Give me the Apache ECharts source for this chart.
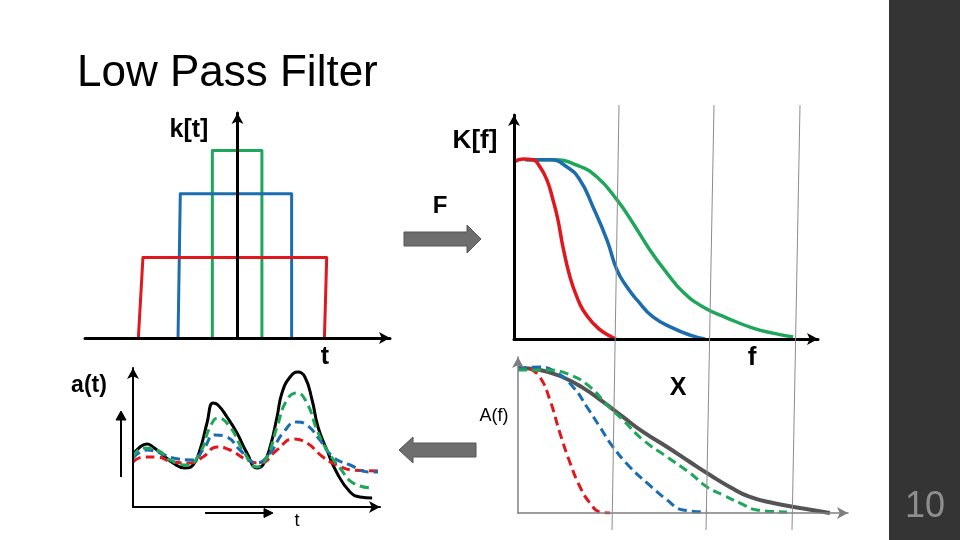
<!DOCTYPE html>
<html>
<head>
<meta charset="utf-8">
<script src="https://cdn.jsdelivr.net/npm/echarts@6/dist/echarts.min.js"></script>
<style>html,body{margin:0;padding:0;background:#fff}#c{width:960px;height:540px}</style>
</head>
<body>
<div id="c"></div>
<script>
// ---- Panel 1: k[t] rectangular kernels (t, height) ----
var kGreen = [[-1.65,0],[-1.65,1.0],[1.6,1.0],[1.6,0]];
var kBlue  = [[-3.9,0],[-3.75,0.77],[3.55,0.77],[3.55,0]];
var kRed   = [[-6.5,0],[-6.2,0.43],[5.85,0.43],[5.7,0]];

// ---- Panel 2: K[f] spectra (f, value) ----
var KfRed = [[0,0.988],[2.96,1.004],[6.25,1.0],[8.55,0.96],[10.86,0.887],[12.83,0.776],[14.47,0.664],[16.12,0.513],[18.42,0.346],[20.72,0.234],[22.7,0.162],[25.99,0.089],[29.28,0.039],[33.55,0]];
var KfBlue = [[3.6,1.0],[11.84,1.0],[17.43,0.96],[21.7,0.887],[25.99,0.737],[30.59,0.552],[33.88,0.385],[37.17,0.29],[40.46,0.218],[45.72,0.123],[52.3,0.061],[57.9,0.022],[62.8,0]];
var KfGreen = [[4.3,1.0],[12.83,1.0],[20.7,0.97],[27.3,0.904],[33.9,0.776],[39.1,0.647],[44.7,0.497],[50.3,0.368],[55.6,0.262],[62.2,0.179],[70.1,0.117],[78.6,0.061],[85.2,0.033],[91.8,0.011]];

// ---- Panel 3: a(t) signal and filtered versions (t, value) ----
var aBlack = [[0,0.52],[2.83,0.60],[5.67,0.63],[8.1,0.60],[12.15,0.52],[16.2,0.44],[21.05,0.39],[24.3,0.42],[27.1,0.57],[29.96,0.84],[32.4,1.04],[34.4,1.02],[38.06,0.90],[42.1,0.74],[46.15,0.54],[50.2,0.39],[52.6,0.42],[55.5,0.60],[58.3,0.90],[60.3,1.14],[63.6,1.30],[66.8,1.35],[69.6,1.30],[72.5,1.07],[74.9,0.80],[78.5,0.57],[82.6,0.34],[87.9,0.15],[91.9,0.10],[96.8,0.09]];
var aGreen = [[0,0.50],[4.05,0.59],[9.7,0.57],[15,0.47],[21.9,0.42],[27.1,0.54],[31.2,0.80],[34.4,0.89],[39.3,0.80],[44.5,0.57],[50.2,0.40],[54.3,0.50],[58.3,0.80],[62.3,1.07],[66.4,1.14],[70.4,1.04],[74.5,0.77],[78.5,0.57],[83.8,0.39],[89.1,0.24],[96.8,0.19]];
var aBlue = [[0,0.49],[5.67,0.57],[10.9,0.54],[16.2,0.49],[24.3,0.47],[28.3,0.57],[33.2,0.72],[38.06,0.70],[43.3,0.57],[50.2,0.44],[55.5,0.54],[60.7,0.74],[66.4,0.85],[70.4,0.82],[75.7,0.67],[81,0.50],[87.9,0.42],[95.9,0.35],[99.2,0.35]];
var aRed = [[0,0.45],[4.05,0.50],[9.7,0.50],[16.2,0.45],[23.1,0.44],[28.3,0.50],[34,0.60],[39.3,0.57],[46.2,0.47],[51.4,0.44],[58.3,0.57],[64.8,0.68],[70.4,0.64],[76.9,0.50],[82.6,0.42],[89.1,0.37],[99.2,0.36]];

// ---- Panel 4: A(f) signal spectrum and products (f, value) ----
var AfGray = [[0,1.004],[6.67,0.99],[13.6,0.94],[19.7,0.866],[25.8,0.769],[31.8,0.665],[37.9,0.561],[45.2,0.457],[52.1,0.353],[58.2,0.263],[64.2,0.18],[70.3,0.111],[77.3,0.069],[85.5,0.035],[94.5,0]];
var AfGreen = [[0,0.99],[8.8,0.99],[15.8,0.956],[21.8,0.873],[27,0.748],[31.8,0.644],[37.9,0.506],[45.2,0.388],[52.1,0.277],[57.3,0.18],[62.1,0.125],[67.3,0.069],[72.4,0.021],[81.5,0.007]];
var AfBlue = [[0,1.0],[6.67,1.01],[11.8,0.97],[16.7,0.873],[20.9,0.734],[24.8,0.596],[28.8,0.457],[33.9,0.319],[39.1,0.208],[45.2,0.09],[50,0.021],[57.3,0.007]];
var AfRed = [[3.6,1.0],[6.67,0.94],[9.7,0.78],[12.7,0.554],[15.8,0.346],[18.8,0.18],[21.8,0.069],[24.8,0.007],[27.9,0]];

var RED = '#e0181e', BLUE = '#1b6db0', GREEN = '#1ea65a';

function axis(idx, min, max, color, width) {
  return {
    type: 'value', gridIndex: idx, min: min, max: max, z: 5,
    axisLine: { show: true, onZero: true, symbol: ['none', 'arrow'], symbolSize: [9, 11],
      lineStyle: { color: color, width: width } },
    axisTick: { show: false }, axisLabel: { show: false }, splitLine: { show: false }
  };
}
function line(data, xi, color, width, dashed) {
  return {
    type: 'line', xAxisIndex: xi, yAxisIndex: xi, data: data, showSymbol: false,
    smooth: dashed === 'rect' ? false : 0.5, animation: false,
    lineStyle: { color: color, width: width, type: (dashed === true) ? [9, 5] : 'solid', cap: 'butt', join: 'round' }
  };
}
function txt(text, x, y, size, weight, color, align) {
  return { type: 'text', z: 20, style: { text: text, x: x, y: y, fontSize: size, fontWeight: weight,
    fontFamily: 'Liberation Sans, Arial, sans-serif', fill: color,
    align: align || 'center', textAlign: align || 'center', verticalAlign: 'middle', textVerticalAlign: 'middle' } };
}
function poly(points, fill, stroke) {
  return { type: 'polygon', z: 20, shape: { points: points }, style: { fill: fill, stroke: stroke, lineWidth: 1 } };
}
function seg(x1, y1, x2, y2, color, w) {
  return { type: 'line', z: 20, shape: { x1: x1, y1: y1, x2: x2, y2: y2 }, style: { stroke: color, lineWidth: w } };
}

var chart = echarts.init(document.getElementById('c'), null, { renderer: 'canvas' });
chart.setOption({
  animation: false,
  backgroundColor: '#ffffff',
  grid: [
    { left: 85, top: 113, width: 305, height: 225 },
    { left: 514, top: 115, width: 304, height: 224 },
    { left: 133, top: 368, width: 247, height: 139 },
    { left: 518, top: 357, width: 330, height: 156 }
  ],
  xAxis: [
    axis(0, -10, 10, '#000', 3),
    axis(1, 0, 100, '#000', 3),
    axis(2, 0, 100, '#000', 2),
    axis(3, 0, 100, '#7f7f7f', 1.5)
  ],
  yAxis: [
    axis(0, 0, 1.2, '#000', 3),
    axis(1, 0, 1.25, '#000', 3),
    axis(2, 0, 1.39, '#000', 2),
    axis(3, 0, 1.08, '#7f7f7f', 1.5)
  ],
  series: [
    line(kGreen, 0, GREEN, 3, 'rect'),
    line(kBlue, 0, BLUE, 3, 'rect'),
    line(kRed, 0, RED, 3, 'rect'),
    line(KfGreen, 1, GREEN, 3.5, false),
    line(KfBlue, 1, BLUE, 3.5, false),
    line(KfRed, 1, RED, 3.5, false),
    line(aBlack, 2, '#000', 3, false),
    line(aRed, 2, RED, 3, true),
    line(aBlue, 2, BLUE, 3, true),
    line(aGreen, 2, GREEN, 3, true),
    line(AfGray, 3, '#545454', 4, false),
    line(AfRed, 3, RED, 3, true),
    line(AfBlue, 3, BLUE, 3, true),
    line(AfGreen, 3, GREEN, 3, true)
  ],
  graphic: [
    // slide sidebar
    { type: 'rect', z: 1, shape: { x: 889, y: 0, width: 71, height: 540 }, style: { fill: '#343434' } },
    txt('10', 925, 507, 36, 'normal', '#8e8e8e'),
    // title
    txt('Low Pass Filter', 77, 74, 44, 'normal', '#000', 'left'),
    // thin vertical guide lines
    seg(619, 105, 612, 530, '#8c8c8c', 1),
    seg(714, 105, 706, 530, '#8c8c8c', 1),
    seg(800, 105, 792, 530, '#8c8c8c', 1),
    // labels
    txt('k[t]', 189, 130, 25, 'bold', '#000'),
    txt('t', 325, 357, 25, 'bold', '#000'),
    txt('K[f]', 475, 141, 26, 'bold', '#000'),
    txt('F', 440, 206, 24, 'bold', '#000'),
    txt('f', 752, 358, 26, 'bold', '#000'),
    txt('X', 678, 388, 25, 'bold', '#000'),
    txt('a(t)', 89, 386, 23, 'bold', '#000'),
    txt('A(f)', 494, 416, 18, 'normal', '#000'),
    txt('t', 297, 521, 18, 'normal', '#000'),
    // big gray arrows
    poly([[404,232],[467,232],[467,225],[481,239],[467,253],[467,246],[404,246]], '#6e6e6e', '#555'),
    poly([[476,443],[413,443],[413,437],[399,450],[413,463],[413,457],[476,457]], '#6e6e6e', '#555'),
    // small black arrows in a(t) panel
    seg(121, 477, 121, 419, '#000', 2),
    poly([[121,411],[116,420],[126,420]], '#000', '#000'),
    seg(205, 513, 266, 513, '#000', 2),
    poly([[273,513],[264,508.5],[264,517.5]], '#000', '#000')
  ]
});
</script>
</body>
</html>
